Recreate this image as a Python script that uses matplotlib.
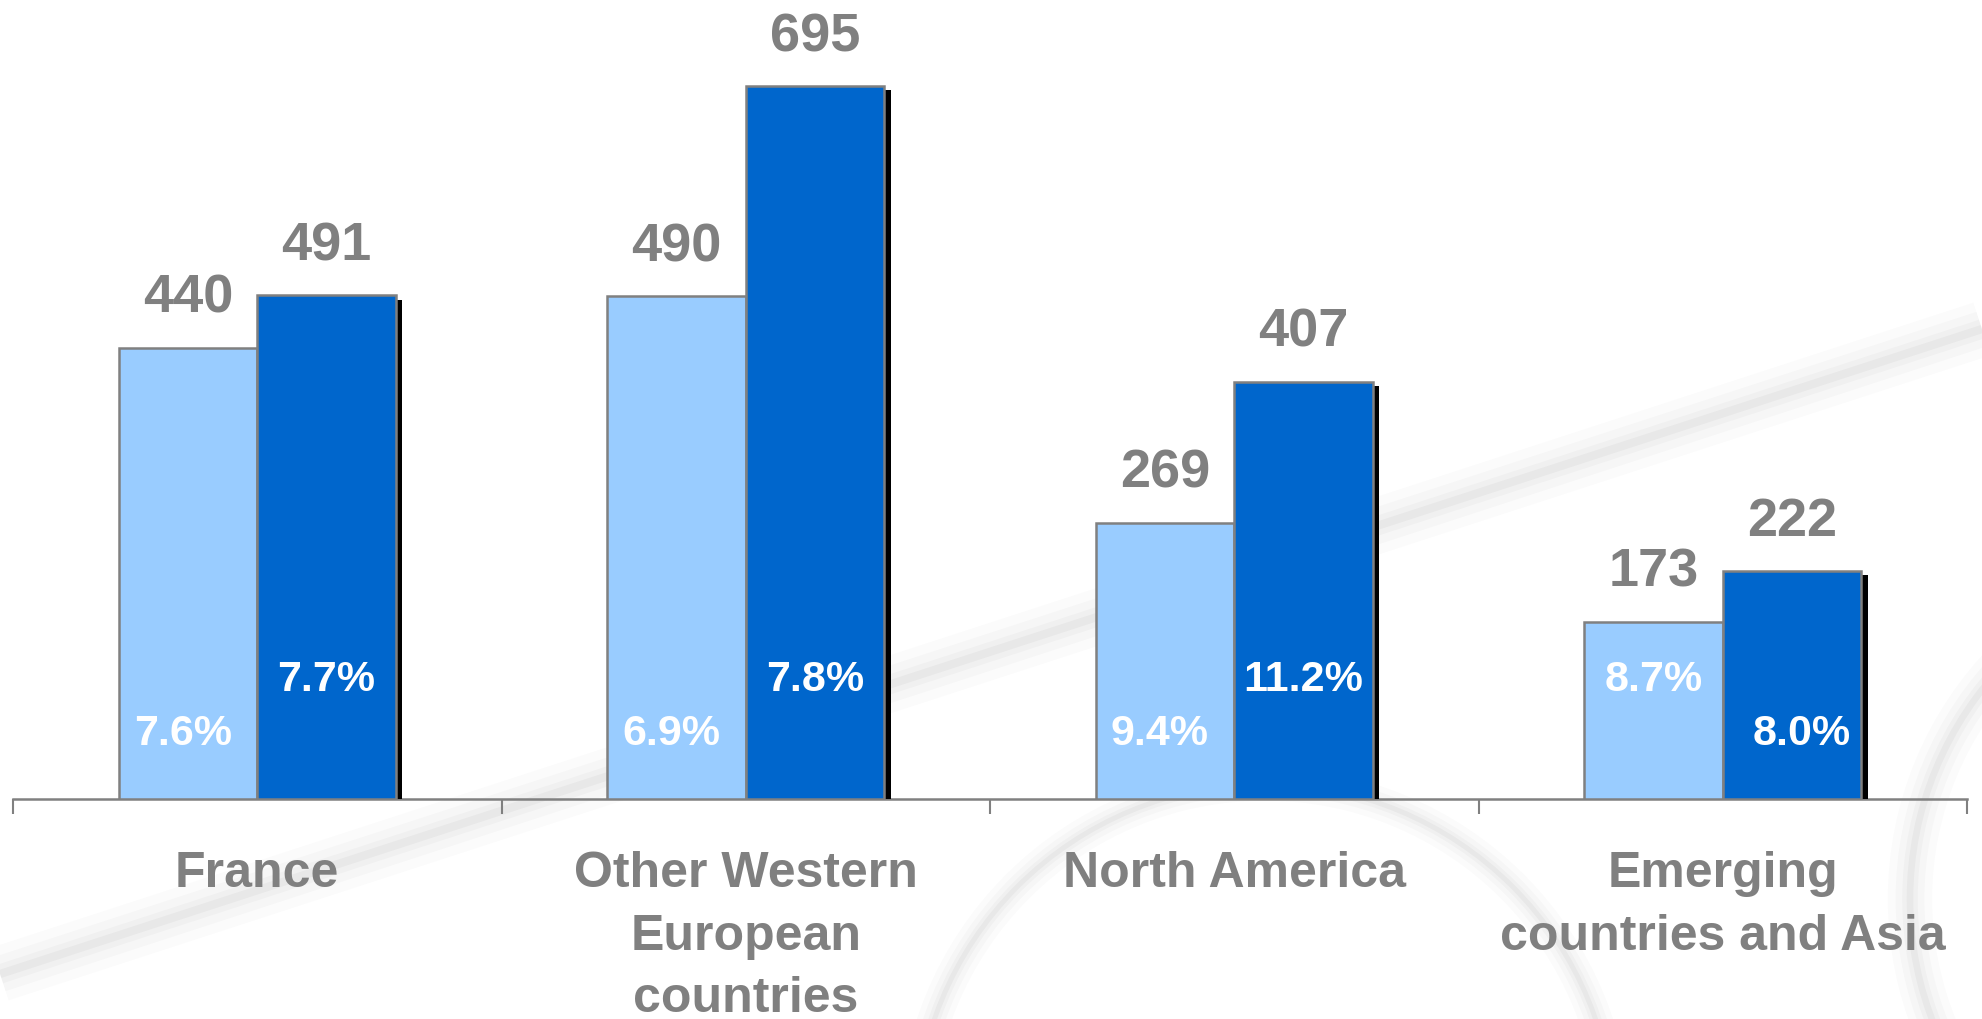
import matplotlib
matplotlib.use("Agg")
import matplotlib.pyplot as plt
import matplotlib.patheffects as pe
from matplotlib.patches import Circle
import numpy as np

regions = ["France", "Other Western\nEuropean\ncountries", "North America",
           "Emerging\ncountries and Asia"]
sales_prev = [440, 490, 269, 173]
sales_curr = [491, 695, 407, 222]
margin_prev = ["7.6%", "6.9%", "9.4%", "8.7%"]
margin_curr = ["7.7%", "7.8%", "11.2%", "8.0%"]

light = "#99CCFF"
dark = "#0066CC"
grey = "#808080"

plt.rcParams['font.family'] = ['Liberation Sans', 'DejaVu Sans']
plt.rcParams['font.weight'] = 'bold'

fig = plt.figure(figsize=(19.82, 10.2), dpi=100)
fig.patch.set_facecolor("white")

# soft grey swooshes behind the chart
bg = fig.add_axes([0, 0, 1, 1], zorder=-5)
bg.set_xlim(0, 1982)
bg.set_ylim(1020, 0)
bg.axis("off")
for lw, a in [(40, 0.015), (26, 0.02), (14, 0.025), (6, 0.03)]:
    bg.plot([0, 1982], [975, 330], color="black", lw=lw, alpha=a, solid_capstyle="butt")
    bg.add_patch(Circle((1265, 1135), 350, fill=False, ec="black", lw=lw * 0.6, alpha=a))
    bg.add_patch(Circle((2250, 900), 340, fill=False, ec="black", lw=lw * 0.8, alpha=a))

ax = fig.add_axes([13 / 1982, 220 / 1020, 1954 / 1982, 800 / 1020])
ax.patch.set_alpha(0)

x = np.arange(len(regions))
w = 0.284
shadow = [pe.SimplePatchShadow(offset=(4.5, -3), shadow_rgbFace="black", alpha=1.0),
          pe.Normal()]

b1 = ax.bar(x - w / 2, sales_prev, w, color=light, edgecolor=grey, linewidth=1.8, zorder=3)
b2 = ax.bar(x + w / 2, sales_curr, w, color=dark, edgecolor=grey, linewidth=1.8, zorder=4)
for b in list(b1) + list(b2):
    b.set_path_effects(shadow)

for i in range(len(regions)):
    ax.annotate(str(sales_prev[i]), (x[i] - w / 2, sales_prev[i]), xytext=(0, 26),
                textcoords="offset points", ha="center", va="baseline",
                fontsize=39, color=grey, fontweight="bold")
    ax.annotate(str(sales_curr[i]), (x[i] + w / 2, sales_curr[i]), xytext=(0, 26),
                textcoords="offset points", ha="center", va="baseline",
                fontsize=39, color=grey, fontweight="bold")
    # the higher margin sits a little higher up in its bar
    hi_prev = float(margin_prev[i][:-1]) > float(margin_curr[i][:-1])
    ax.text(x[i] - w / 2 - (0.0 if hi_prev else 0.01), 117 if hi_prev else 64,
            margin_prev[i], ha="center", va="center", fontsize=31, color="white",
            fontweight="bold", zorder=6)
    ax.text(x[i] + w / 2 + (0.02 if hi_prev else 0), 64 if hi_prev else 117,
            margin_curr[i], ha="center", va="center", fontsize=31, color="white",
            fontweight="bold", zorder=6)

ax.set_xlim(-0.5, len(regions) - 0.5)
ax.set_ylim(0, 780)
for s in ["top", "right", "left"]:
    ax.spines[s].set_visible(False)
ax.spines["bottom"].set_color(grey)
ax.spines["bottom"].set_linewidth(1.8)
ax.spines["bottom"].set_zorder(2)
ax.set_yticks([])

ax.set_xticks(np.arange(-0.5, len(regions)), minor=False)
ax.set_xticklabels([])
ax.tick_params(axis="x", which="major", length=11, width=1.5, color=grey, direction="out")
ax.set_xticks(x, minor=True)
ax.set_xticklabels(regions, minor=True, fontsize=36, color=grey, fontweight="bold",
                   linespacing=1.45)
ax.tick_params(axis="x", which="minor", length=0, pad=37)

fig.savefig("out.png", dpi=100, facecolor="white")
